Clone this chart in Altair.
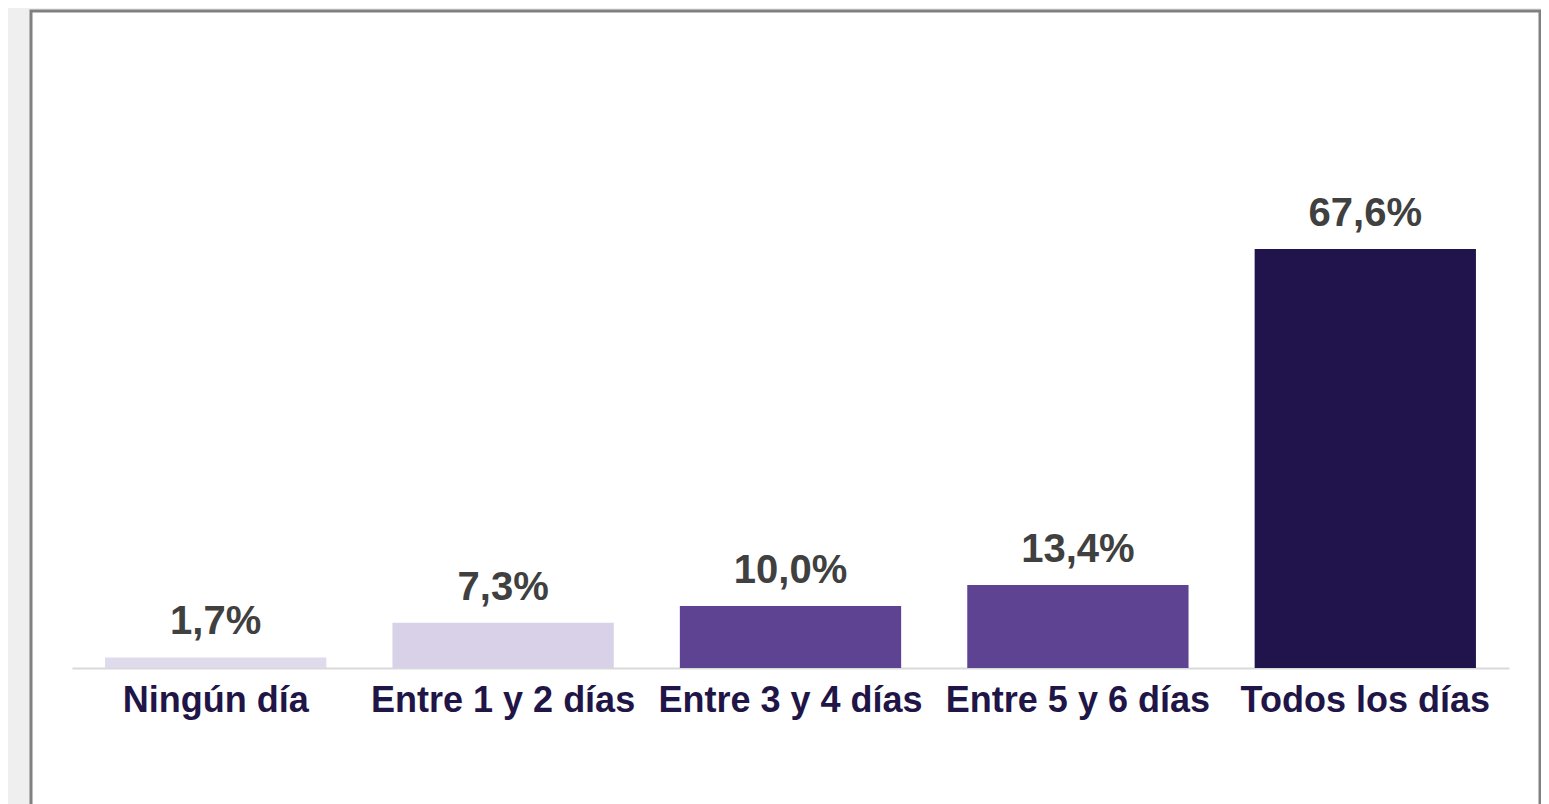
import altair as alt
import pandas as pd

categories = ["Ningún día", "Entre 1 y 2 días", "Entre 3 y 4 días", "Entre 5 y 6 días", "Todos los días"]
values = [1.7, 7.3, 10.0, 13.4, 67.6]
labels = ["1,7%", "7,3%", "10,0%", "13,4%", "67,6%"]
bar_colors = ["#e0dbec", "#d9d1e8", "#5e4393", "#5e4393", "#21144c"]

df = pd.DataFrame({"cat": categories, "val": values, "lab": labels})

x_enc = alt.X(
    "cat:N",
    sort=categories,
    title=None,
    scale=alt.Scale(range=[41, 1478], paddingInner=0.23, paddingOuter=0.115),
    axis=alt.Axis(
        labelAngle=0,
        labelFont="Liberation Sans",
        labelFontSize=36,
        labelFontWeight="bold",
        labelColor="#1f1547",
        labelPadding=15,
        labelLimit=500,
        labelOverlap=False,
        ticks=False,
        domainColor="#d9d9d9",
        domainWidth=2,
        offset=-143,
    ),
)
y_scale = alt.Scale(domain=[0, 100], range=[657, 37])

bars = alt.Chart(df).mark_bar().encode(
    x=x_enc,
    y=alt.Y("val:Q", scale=y_scale, axis=None),
    y2=alt.datum(0),
    color=alt.Color("cat:N", sort=categories,
                    scale=alt.Scale(domain=categories, range=bar_colors), legend=None),
)

text = alt.Chart(df).mark_text(
    font="Liberation Sans", fontSize=40, fontWeight="bold", color="#404040",
    baseline="alphabetic", align="center", dy=-23,
).encode(
    x=alt.X("cat:N", sort=categories),
    y=alt.Y("val:Q", scale=y_scale),
    text="lab:N",
)

chart = alt.layer(bars, text).properties(
    width=1509,
    height=800,
    padding={"left": 23, "top": 3, "right": 1, "bottom": 0},
    autosize=alt.AutoSizeParams(type="none"),
    background="#efefef",
).configure_view(
    fill="white", stroke="#808080", strokeWidth=3
)

chart.save("out.html", embed_options={"renderer": "svg", "actions": False})
